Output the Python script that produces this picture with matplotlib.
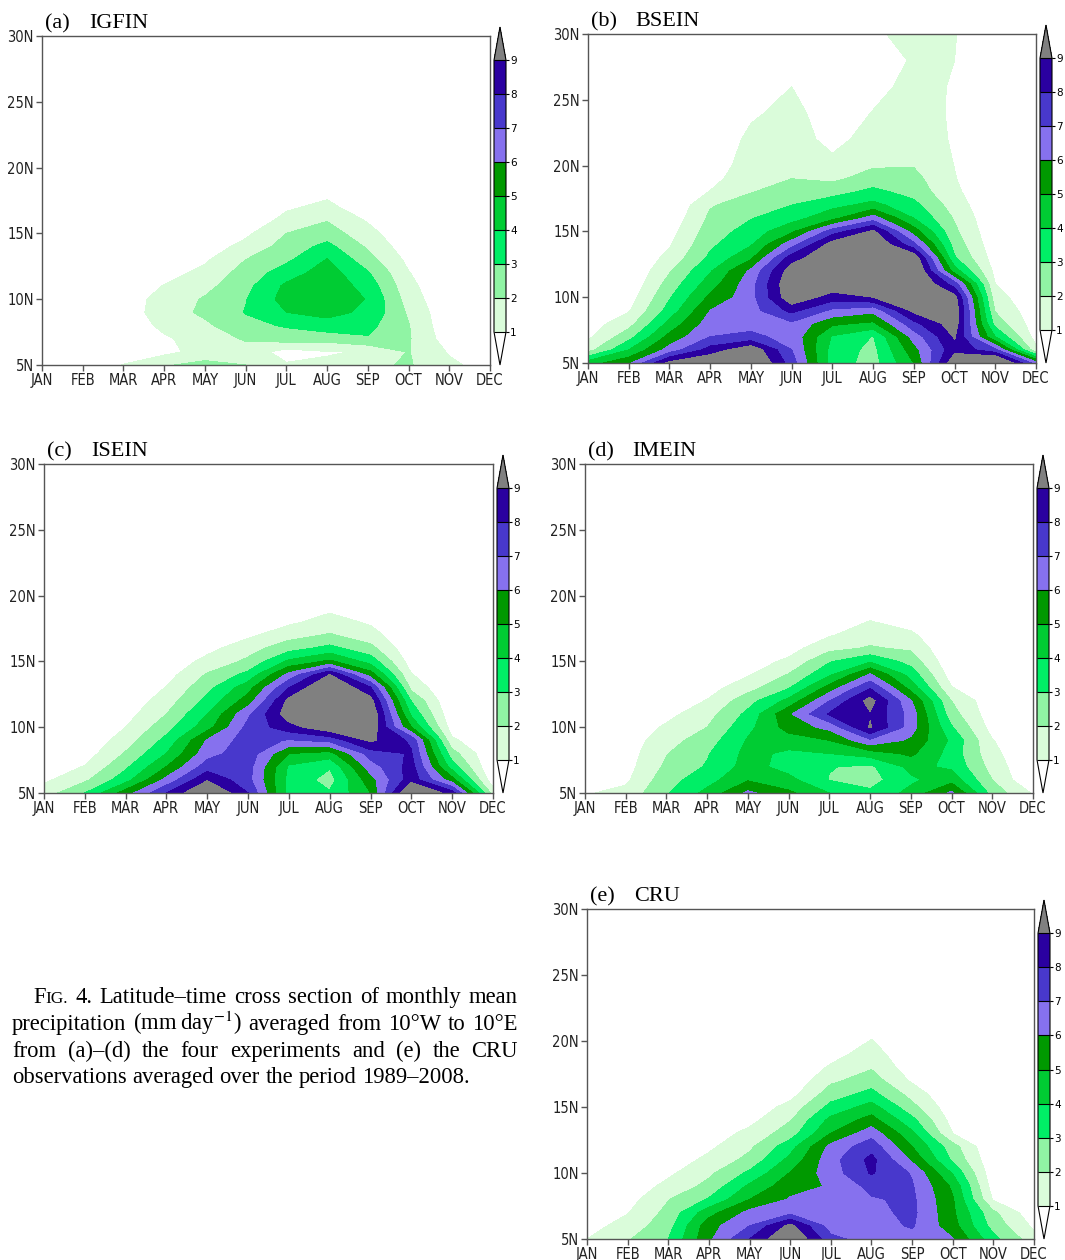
import matplotlib
matplotlib.use("Agg")
import matplotlib.pyplot as plt
import numpy as np
from matplotlib.colors import ListedColormap, BoundaryNorm

plt.rcParams["mathtext.fontset"] = "stix"

months = ["JAN", "FEB", "MAR", "APR", "MAY", "JUN", "JUL", "AUG", "SEP", "OCT", "NOV", "DEC"]
lats = [30, 28, 26, 24, 22, 20, 19, 18, 17, 16, 15, 14, 13, 12, 11, 10, 9, 8, 7, 6, 5]
levels = [1, 2, 3, 4, 5, 6, 7, 8, 9]
lat_ticks = [5, 10, 15, 20, 25, 30]

# precipitation (mm/day), rows = lats (30N -> 5N), columns = months
igfin = [
    [0, 0, 0, 0, 0, 0, 0, 0, 0, 0, 0, 0],
    [0, 0, 0, 0, 0, 0, 0, 0, 0, 0, 0, 0],
    [0, 0, 0, 0, 0, 0, 0, 0, 0, 0, 0, 0],
    [0, 0, 0, 0, 0, 0, 0, 0, 0, 0, 0, 0],
    [0, 0, 0, 0, 0, 0, 0, 0, 0, 0, 0, 0],
    [0, 0, 0, 0, 0, 0, 0, 0, 0, 0, 0, 0],
    [0, 0, 0, 0, 0, 0, 0, 0.3, 0, 0, 0, 0],
    [0, 0, 0, 0, 0, 0, 0.4, 0.8, 0.1, 0, 0, 0],
    [0, 0, 0, 0, 0, 0.1, 0.85, 1.25, 0.4, 0, 0, 0],
    [0, 0, 0, 0, 0, 0.3, 1.3, 1.95, 0.9, 0.1, 0, 0],
    [0, 0, 0, 0, 0.2, 0.8, 2.0, 2.5, 1.35, 0.2, 0, 0],
    [0, 0, 0, 0, 0.5, 1.3, 2.4, 3.3, 1.85, 0.4, 0, 0],
    [0, 0, 0, 0.2, 0.85, 2.0, 2.8, 4.05, 2.4, 0.75, 0, 0],
    [0, 0, 0, 0.6, 1.3, 2.4, 3.5, 4.5, 3.1, 1.05, 0, 0],
    [0, 0, 0.2, 1.05, 1.7, 2.7, 4.2, 4.7, 3.6, 1.3, 0.05, 0],
    [0, 0, 0.45, 1.4, 2.1, 2.95, 4.4, 4.6, 3.95, 1.55, 0.1, 0],
    [0, 0, 0.45, 1.5, 2.2, 3.05, 4.0, 4.3, 3.8, 1.85, 0.2, 0],
    [0, 0, 0.3, 1.25, 1.8, 2.7, 3.1, 3.6, 3.3, 2.05, 0.25, 0],
    [0, 0, 0.2, 0.85, 1.5, 2.1, 2.5, 2.4, 2.9, 2.1, 0.45, 0],
    [0, 0, 0.3, 0.7, 1.4, 1.6, 0.6, 0.95, 1.05, 2.05, 0.9, 0.1],
    [0, 0.1, 1.05, 1.9, 2.3, 2.0, 1.1, 1.1, 1.8, 2.1, 1.2, 0.6],
]

bsein = [
    [0, 0, 0, 0, 0, 0, 0, 0.85, 1.3, 1.05, 0.1, 0],
    [0, 0, 0, 0, 0, 0.4, 0, 0.5, 1.1, 1.0, 0.1, 0],
    [0, 0, 0, 0, 0.3, 1.0, 0.1, 0.6, 1.4, 0.9, 0.1, 0],
    [0, 0, 0, 0, 0.8, 1.4, 0.3, 1.05, 1.5, 0.85, 0.1, 0],
    [0, 0, 0, 0, 1.3, 1.6, 0.6, 1.5, 1.6, 0.88, 0.1, 0],
    [0, 0, 0, 0.3, 1.6, 1.8, 1.35, 1.9, 1.95, 0.98, 0.1, 0],
    [0, 0, 0, 0.6, 1.8, 2.0, 1.8, 2.4, 2.3, 1.05, 0.1, 0],
    [0, 0, 0, 1.05, 1.95, 2.5, 2.6, 3.3, 2.6, 1.2, 0.1, 0],
    [0, 0, 0, 1.9, 2.5, 3.0, 3.7, 4.3, 3.3, 1.5, 0.1, 0],
    [0, 0, 0.3, 2.2, 2.95, 3.6, 4.7, 6.5, 4.0, 1.9, 0.1, 0],
    [0, 0, 0.6, 2.5, 3.4, 4.8, 7.5, 9.2, 5.5, 2.2, 0.2, 0],
    [0, 0, 0.9, 2.8, 3.9, 6.6, 9.5, 10.2, 7.3, 2.6, 0.3, 0],
    [0, 0, 1.3, 3.2, 4.8, 8.5, 10, 10.5, 9.8, 3.1, 0.5, 0],
    [0, 0, 1.9, 3.9, 6.2, 9.6, 10, 10.5, 10.5, 4.5, 0.7, 0.1],
    [0, 0.2, 2.4, 4.5, 6.6, 10, 9.8, 10, 10.5, 7.5, 1.0, 0.1],
    [0, 0.5, 2.9, 5.2, 6.6, 9.8, 8.5, 9.0, 10, 9.4, 1.4, 0.2],
    [0, 0.9, 3.4, 6.0, 6.6, 8.3, 6.8, 6.3, 9.3, 9.8, 1.9, 0.3],
    [0.5, 1.6, 4.3, 6.5, 6.7, 6.8, 5.2, 4.8, 7.7, 9.6, 2.6, 0.4],
    [0.8, 2.6, 5.3, 7.0, 7.2, 6.7, 3.9, 2.95, 6.4, 9.1, 4.0, 0.6],
    [1.6, 4.0, 6.4, 8.4, 9.8, 7.0, 3.6, 2.7, 5.6, 8.7, 7.3, 1.2],
    [4.5, 5.8, 9.3, 10, 10.5, 7.5, 3.5, 2.6, 5.0, 9.8, 11, 6.5],
]

isein = [
    [0, 0, 0, 0, 0, 0, 0, 0, 0, 0, 0, 0],
    [0, 0, 0, 0, 0, 0, 0, 0, 0, 0, 0, 0],
    [0, 0, 0, 0, 0, 0, 0, 0, 0, 0, 0, 0],
    [0, 0, 0, 0, 0, 0, 0, 0, 0, 0, 0, 0],
    [0, 0, 0, 0, 0, 0, 0, 0, 0, 0, 0, 0],
    [0, 0, 0, 0, 0, 0, 0, 0.3, 0, 0, 0, 0],
    [0, 0, 0, 0, 0, 0, 0.3, 0.8, 0.4, 0, 0, 0],
    [0, 0, 0, 0, 0, 0.3, 0.8, 1.4, 0.85, 0, 0, 0],
    [0, 0, 0, 0, 0.3, 0.8, 1.6, 2.1, 1.4, 0.1, 0, 0],
    [0, 0, 0, 0, 0.7, 1.6, 2.6, 3.3, 2.3, 0.2, 0, 0],
    [0, 0, 0, 0.3, 1.3, 2.2, 4.2, 5.2, 3.6, 0.5, 0, 0],
    [0, 0, 0, 0.6, 2.1, 3.3, 6.3, 9.0, 5.5, 1.05, 0, 0],
    [0, 0, 0, 1.05, 2.7, 4.6, 8.0, 10.3, 8.1, 1.7, 0, 0],
    [0, 0, 0.3, 1.5, 3.3, 5.5, 9.3, 10.5, 9.4, 2.95, 0, 0],
    [0, 0, 0.6, 2.0, 4.0, 6.8, 9.6, 10.3, 10, 3.8, 0.2, 0],
    [0, 0, 1.0, 2.6, 4.6, 7.3, 8.6, 9.8, 9.8, 5.0, 0.5, 0],
    [0, 0.2, 1.5, 3.3, 6.1, 7.5, 6.9, 7.3, 9.2, 7.8, 1.2, 0],
    [0, 0.5, 2.1, 4.0, 6.6, 7.6, 5.0, 4.6, 7.5, 8.1, 2.4, 0],
    [0.4, 1.05, 2.8, 5.0, 7.5, 7.4, 3.85, 3.1, 6.5, 8.4, 3.5, 0],
    [0.8, 1.8, 3.6, 6.3, 8.9, 7.3, 3.7, 2.6, 5.6, 8.6, 5.4, 0.3],
    [1.5, 3.0, 5.5, 8.0, 10.3, 8.0, 3.6, 3.1, 5.0, 10.5, 8.5, 1.6],
]

imein = [
    [0, 0, 0, 0, 0, 0, 0, 0, 0, 0, 0, 0],
    [0, 0, 0, 0, 0, 0, 0, 0, 0, 0, 0, 0],
    [0, 0, 0, 0, 0, 0, 0, 0, 0, 0, 0, 0],
    [0, 0, 0, 0, 0, 0, 0, 0, 0, 0, 0, 0],
    [0, 0, 0, 0, 0, 0, 0, 0, 0, 0, 0, 0],
    [0, 0, 0, 0, 0, 0, 0, 0.2, 0, 0, 0, 0],
    [0, 0, 0, 0, 0, 0, 0, 0.5, 0.3, 0, 0, 0],
    [0, 0, 0, 0, 0, 0, 0.4, 1.05, 0.6, 0, 0, 0],
    [0, 0, 0, 0, 0, 0.3, 0.9, 1.6, 1.2, 0, 0, 0],
    [0, 0, 0, 0, 0.2, 0.6, 1.7, 2.1, 1.85, 0, 0, 0],
    [0, 0, 0, 0.1, 0.5, 1.2, 2.9, 3.9, 2.6, 0.2, 0, 0],
    [0, 0, 0, 0.3, 0.9, 2.05, 3.8, 6.1, 3.6, 0.5, 0, 0],
    [0, 0, 0.2, 0.6, 1.6, 2.9, 5.4, 7.9, 4.6, 1.05, 0.1, 0],
    [0, 0, 0.4, 1.05, 2.6, 4.3, 7.0, 9.4, 6.1, 2.0, 0.3, 0],
    [0, 0.2, 0.7, 1.6, 3.25, 5.8, 8.1, 8.9, 6.6, 2.4, 0.4, 0],
    [0, 0.3, 1.15, 2.0, 3.7, 5.4, 6.3, 9.1, 6.5, 3.1, 0.6, 0],
    [0, 0.4, 1.6, 2.5, 4.1, 4.5, 5.0, 6.8, 5.8, 3.8, 1.05, 0],
    [0, 0.5, 1.95, 2.9, 4.3, 3.8, 4.0, 4.5, 5.2, 3.6, 1.3, 0],
    [0, 0.6, 2.2, 3.1, 4.4, 3.6, 3.05, 2.8, 4.3, 3.8, 1.6, 0],
    [0, 0.8, 2.6, 3.6, 4.9, 4.3, 2.95, 2.6, 3.8, 4.6, 2.0, 0],
    [0.9, 1.3, 2.9, 4.3, 6.2, 5.2, 4.0, 3.2, 4.3, 6.2, 2.6, 0.9],
]

cru = [
    [0, 0, 0, 0, 0, 0, 0, 0, 0, 0, 0, 0],
    [0, 0, 0, 0, 0, 0, 0, 0, 0, 0, 0, 0],
    [0, 0, 0, 0, 0, 0, 0, 0, 0, 0, 0, 0],
    [0, 0, 0, 0, 0, 0, 0, 0, 0, 0, 0, 0],
    [0, 0, 0, 0, 0, 0, 0, 0.3, 0, 0, 0, 0],
    [0, 0, 0, 0, 0, 0, 0.2, 1.05, 0, 0, 0, 0],
    [0, 0, 0, 0, 0, 0, 0.6, 1.5, 0.1, 0, 0, 0],
    [0, 0, 0, 0, 0, 0, 1.15, 1.9, 0.4, 0, 0, 0],
    [0, 0, 0, 0, 0, 0.2, 1.8, 2.5, 0.85, 0, 0, 0],
    [0, 0, 0, 0, 0, 0.6, 2.5, 3.3, 1.6, 0, 0, 0],
    [0, 0, 0, 0, 0.3, 1.35, 3.3, 4.4, 2.3, 0.3, 0, 0],
    [0, 0, 0, 0.1, 0.7, 1.95, 4.3, 5.4, 3.3, 0.6, 0, 0],
    [0, 0, 0, 0.4, 1.3, 2.5, 5.0, 6.6, 4.2, 1.0, 0, 0],
    [0, 0, 0.1, 0.8, 1.8, 3.6, 6.3, 7.6, 5.0, 2.4, 0, 0],
    [0, 0, 0.4, 1.25, 2.3, 4.3, 6.6, 8.3, 5.8, 2.8, 0.2, 0],
    [0, 0, 0.8, 1.8, 3.2, 5.05, 6.5, 8.1, 6.9, 3.9, 0.3, 0],
    [0, 0.3, 1.3, 2.3, 4.2, 5.6, 6.1, 7.3, 7.1, 4.8, 0.5, 0],
    [0, 0.6, 1.95, 3.1, 5.0, 6.1, 6.05, 6.9, 7.2, 5.1, 0.9, 0],
    [0.3, 0.95, 2.3, 4.6, 6.3, 6.7, 6.4, 6.7, 7.25, 5.2, 2.2, 0.3],
    [0.6, 1.4, 2.6, 5.6, 7.0, 9.3, 6.5, 6.6, 7.1, 5.4, 2.6, 0.8],
    [1.0, 1.9, 3.0, 5.8, 8.0, 10.2, 7.3, 6.5, 6.6, 6.05, 3.3, 1.4],
]

panels = [
    ("(a)", "IGFIN", igfin, (42, 36, 448, 329)),
    ("(b)", "BSEIN", bsein, (588, 34, 448, 329)),
    ("(c)", "ISEIN", isein, (44, 464, 449, 329)),
    ("(d)", "IMEIN", imein, (585, 464, 448, 329)),
    ("(e)", "CRU", cru, (587, 909, 447, 330)),
]

band_colors = ["#dafcda", "#90f4a4", "#00ee66", "#00cc33",
               "#009900", "#8671ee", "#4838cc", "#2a00a0"]
cmap = ListedColormap(band_colors)
cmap.set_under("white")
cmap.set_over("#808080")
norm = BoundaryNorm(levels, cmap.N)

W, H = 1065, 1260
fig = plt.figure(figsize=(W / 100, H / 100), dpi=100)


def px_axes(left, top, w, h):
    return fig.add_axes([left / W, 1 - (top + h) / H, w / W, h / H])


tick_font = dict(family="DejaVu Sans", fontstretch="condensed", fontsize=10.5)
frame = "#555555"

for letter, name, vals, (left, top, w, h) in panels:
    ax = px_axes(left, top, w, h)
    cs = ax.contourf(np.arange(12), lats, np.array(vals), levels=levels,
                     cmap=cmap, norm=norm, extend="both")
    ax.set_xlim(0, 11)
    ax.set_ylim(5, 30)
    ax.set_xticks(range(12))
    ax.set_xticklabels(months, **tick_font)
    ax.set_yticks(lat_ticks)
    ax.set_yticklabels([f"{t}N" for t in lat_ticks], **tick_font)
    ax.tick_params(direction="out", length=4, width=1, color=frame,
                   labelcolor="#222222", pad=2)
    for sp in ax.spines.values():
        sp.set_color(frame)
        sp.set_linewidth(1)

    ax.text(3 / w, 1 + 8 / h, letter, transform=ax.transAxes,
            family="Liberation Serif", fontsize=16, va="baseline")
    ax.text(47 / w, 1 + 8 / h, name, transform=ax.transAxes,
            family="Liberation Serif", fontsize=16, va="baseline")

    cax = px_axes(left + w + 4, top - 9, 12, h + 9)
    cb = fig.colorbar(cs, cax=cax, ticks=levels, drawedges=True, extendfrac=0.122)
    cb.outline.set_edgecolor("black")
    cb.outline.set_linewidth(0.8)
    cb.dividers.set_color("black")
    cb.dividers.set_linewidth(0.8)
    cb.ax.set_yticklabels([str(v) for v in levels])
    cb.ax.tick_params(labelsize=7.5, length=2, width=0.8, pad=1)

# caption, justified block ("~" keeps two words together)
cap_size = 16.3
cap_lines = [
    ("FIG. 4. Latitude–time cross section of monthly mean", 33, True),
    ("precipitation (mm~day$^{-1}$) averaged from 10°W to 10°E", 12, True),
    ("from (a)–(d) the four experiments and (e) the CRU", 12, True),
    ("observations averaged over the period 1989–2008.", 12, False),
]
cap_baselines = [1003, 1030, 1057, 1083]
cap_right = 518

renderer = fig.canvas.get_renderer()


def make_word(word):
    if word == "FIG.":
        return [("F", cap_size), ("IG.", cap_size * 0.76)]
    return [(word.replace("~", "\u2009"), cap_size)]


def text_width(t):
    return t.get_window_extent(renderer).width


space_probe = fig.text(0, 0, "a a", family="Liberation Serif", fontsize=cap_size)
nospace_probe = fig.text(0, 0, "aa", family="Liberation Serif", fontsize=cap_size)
space_w = text_width(space_probe) - text_width(nospace_probe)
space_probe.remove()
nospace_probe.remove()

for (line, x0, justify), yb in zip(cap_lines, cap_baselines):
    words = line.split(" ")
    drawn = []
    total = 0
    for word in words:
        parts = []
        ww = 0
        for txt, size in make_word(word):
            t = fig.text(0, 1 - yb / H, txt, family="Liberation Serif",
                         fontsize=size, va="baseline")
            pw = text_width(t)
            parts.append((t, pw))
            ww += pw
        drawn.append((parts, ww))
        total += ww
    if justify:
        gap = (cap_right - x0 - total) / (len(words) - 1)
    else:
        gap = space_w
    x = x0
    for parts, ww in drawn:
        px = x
        for t, pw in parts:
            t.set_x(px / W)
            px += pw
        x += ww + gap

fig.savefig("out.png", dpi=100)
